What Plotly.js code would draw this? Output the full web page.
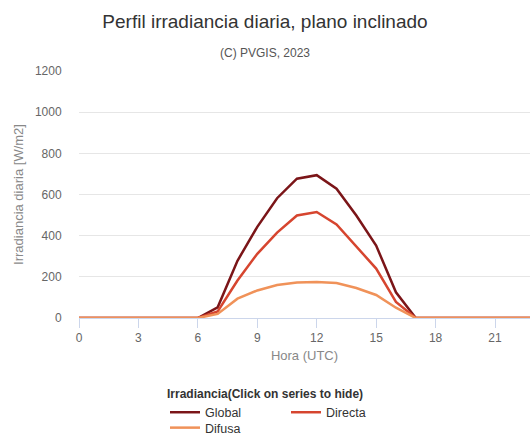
<!DOCTYPE html>
<html>
<head>
<meta charset="utf-8">
<script src="https://cdn.plot.ly/plotly-3.0.1.min.js"></script>
<style>html,body{margin:0;padding:0;background:#fff;}#chart{width:530px;height:434px;}</style>
</head>
<body>
<div id="chart"></div>
<script>
const hours = [0,1,2,3,4,5,6,7,8,9,10,11,12,13,14,15,16,17,18,19,20,21,22,23];
const globalVals  = [0,0,0,0,0,0,0,52,278,443,582,677,694,628,498,352,125,0,0,0,0,0,0,0];
const directaVals = [0,0,0,0,0,0,0,32,182,312,415,498,515,455,350,240,78,0,0,0,0,0,0,0];
const difusaVals  = [0,0,0,0,0,0,0,20,94,134,160,172,175,170,146,112,50,0,0,0,0,0,0,0];
const seriesNames = ['Global','Directa','Difusa'];
const seriesColors = ['#7b1518','#d6452f','#f09259'];
const seriesLegends = ['legend','legend','legend2'];
const xTicks = [0,3,6,9,12,15,18,21];
const yTicks = [0,200,400,600,800,1000,1200];

const font = 'Liberation Sans, Arial, sans-serif';
const data = [globalVals, directaVals, difusaVals].map((v,i)=>({
  x: hours, y: v, name: seriesNames[i], type:'scatter', mode:'lines',
  line:{color: seriesColors[i], width:2.5}, legend: seriesLegends[i]
}));

const legendX = (165-79)/451;
const layout = {
  width:530, height:434,
  margin:{l:79, r:0, t:71, b:116, autoexpand:false},
  paper_bgcolor:'#fff', plot_bgcolor:'#fff',
  font:{family:font, color:'#666', size:12},
  title:{text:'Perfil irradiancia diaria, plano inclinado', x:0.5, xref:'container', xanchor:'center', y:1-21/434, yref:'container', yanchor:'middle',
         font:{family:font, size:19, color:'#333'}},
  annotations:[{text:'(C) PVGIS, 2023', xref:'paper', yref:'paper', x:(265-79)/451, y:1+(71-53)/247,
                xanchor:'center', yanchor:'middle', showarrow:false, font:{family:font, size:12, color:'#555'}}],
  xaxis:{range:[0, 451/19.81], tickvals:xTicks, ticktext:xTicks.map(String), showgrid:false, zeroline:false,
         showline:true, linecolor:'#ccd6eb', linewidth:1, ticks:'outside', ticklen:9, tickcolor:'#ccd6eb',
         tickfont:{size:12, color:'#666'}, automargin:false,
         title:{text:'Hora (UTC)', font:{size:13, color:'#888'}, standoff:6}},
  yaxis:{range:[0,1200], tickvals:yTicks, ticktext:yTicks.map(String), showgrid:true, gridcolor:'#e6e6e6', gridwidth:1,
         zeroline:false, showline:false, ticks:'outside', ticklen:14, tickcolor:'rgba(0,0,0,0)', tickfont:{size:12, color:'#666'},
         automargin:false,
         title:{text:'Irradiancia diaria [W/m2]', font:{size:13, color:'#888'}, standoff:8}},
  showlegend:true,
  legend:{orientation:'h', x:legendX, xanchor:'left', y:1-382/434, yref:'container', yanchor:'top',
          bgcolor:'rgba(0,0,0,0)', entrywidth:76, entrywidthmode:'pixels', traceorder:'normal',
          title:{text:'<b>Irradiancia(Click on series to hide)</b>', side:'top', font:{size:12, color:'#333'}},
          font:{size:12.5, color:'#333'}, itemwidth:30},
  legend2:{orientation:'h', x:legendX, xanchor:'left', y:1-413/434, yref:'container', yanchor:'top',
          bgcolor:'rgba(0,0,0,0)', font:{size:12.5, color:'#333'}, itemwidth:30}
};

Plotly.newPlot('chart', data, layout, {displayModeBar:false});
</script>
</body>
</html>
